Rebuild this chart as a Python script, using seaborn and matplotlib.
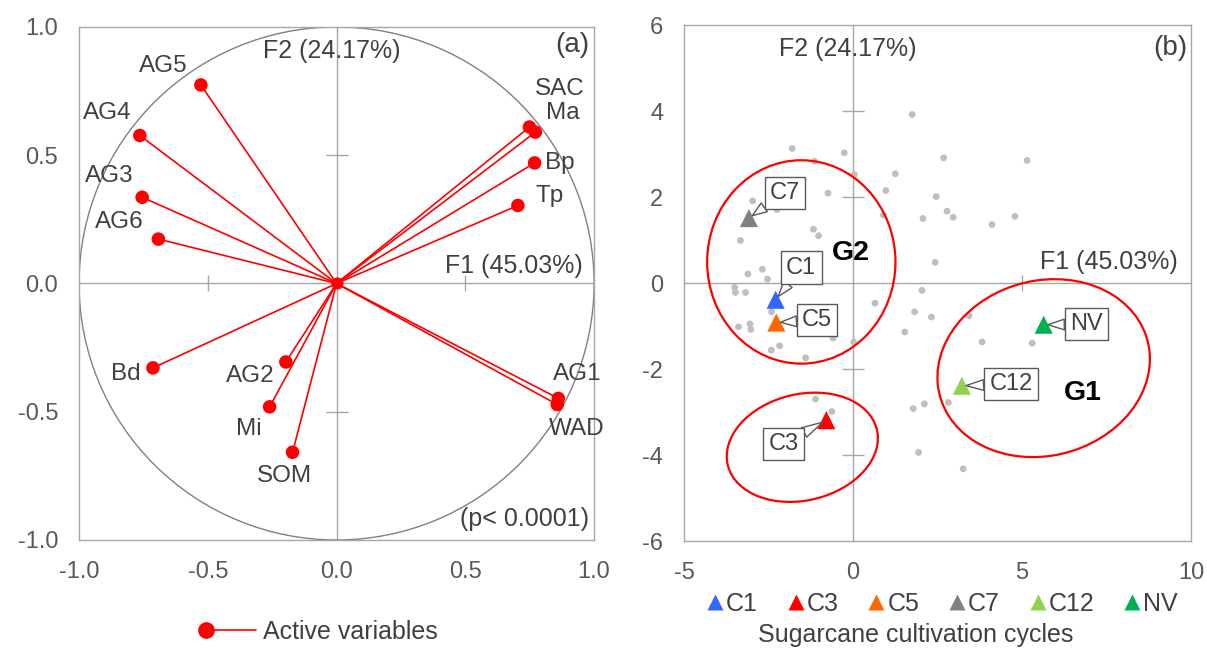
import matplotlib
matplotlib.use("Agg")
import matplotlib.pyplot as plt
from matplotlib.patches import Ellipse, Circle
from matplotlib.lines import Line2D
from matplotlib.legend_handler import HandlerLine2D
import seaborn as sns
import pandas as pd

# ----------------------------------------------
# (a) correlation circle: active variables
# ----------------------------------------------
var_names = ["AG5", "AG4", "AG3", "AG6", "SAC", "Ma", "Bp", "Tp",
             "Bd", "AG2", "Mi", "SOM", "AG1", "WAD"]
var_f1 = [-0.527, -0.764, -0.755, -0.692, 0.749, 0.772, 0.769, 0.704,
          -0.713, -0.197, -0.260, -0.171, 0.861, 0.857]
var_f2 = [0.774, 0.577, 0.336, 0.173, 0.610, 0.590, 0.470, 0.304,
          -0.329, -0.306, -0.481, -0.658, -0.448, -0.472]

# ----------------------------------------------
# (b) observations and cultivation-cycle centroids
# ----------------------------------------------
obs_f1 = [1.75, -1.80, -0.26, 2.68, 5.15, -1.14, 0.04, 1.25, -0.74, 0.97,
          2.46, -2.97, -2.25, 2.78, 2.96, 2.07, 0.90, 4.11, 4.79, -1.17,
          -1.02, -3.33, 2.43, -3.11, -2.68, -2.53, -3.50, -3.48, -3.18, 2.04,
          0.65, 1.82, 2.32, 3.43, -2.41, -3.05, -3.02, -3.39, -0.59, 0.02,
          -2.17, -2.42, -1.40, 1.53, 3.82, 5.30, -1.11, -0.63, 1.78, 2.11,
          2.82, 1.94, 3.26]
obs_f2 = [3.92, 3.13, 3.03, 2.91, 2.85, 2.83, 2.52, 2.54, 2.09, 2.15,
          2.01, 1.91, 1.71, 1.67, 1.53, 1.50, 1.58, 1.36, 1.55, 1.25,
          1.10, 0.99, 0.48, 0.21, 0.32, 0.09, -0.10, -0.22, -0.22, -0.17,
          -0.47, -0.67, -0.79, -0.76, -0.67, -0.95, -1.08, -1.02, -1.28, -1.37,
          -1.46, -1.56, -1.74, -1.14, -1.37, -1.40, -2.70, -2.99, -2.92, -2.81,
          -2.78, -3.94, -4.32]

cycles = ["C1", "C3", "C5", "C7", "C12", "NV"]
cycle_f1 = [-2.29, -0.79, -2.27, -3.08, 3.22, 5.64]
cycle_f2 = [-0.39, -3.19, -0.92, 1.51, -2.39, -0.97]
cycle_colors = ["#3366FF", "#FF0000", "#FF6600", "#808080", "#92D050", "#00B050"]

# label placement (pixels from the point) for panel (a)
label_offset = {
    "AG5": (-38, 19), "AG4": (-33, 22), "AG3": (-33, 21), "AG6": (-39, 17),
    "SAC": (30, 38), "Ma": (27, 19), "Bp": (25, 0), "Tp": (32, 9),
    "Bd": (-27, -6), "AG2": (-36, -14), "Mi": (-21, -22), "SOM": (-8, -24),
    "AG1": (19, 24), "WAD": (19, -24),
}
# callout box centres for panel (b), data units
callout_pos = {
    "C1": (-1.53, 0.36), "C3": (-2.06, -3.74), "C5": (-1.06, -0.86),
    "C7": (-2.01, 2.10), "C12": (4.67, -2.35), "NV": (6.90, -0.96),
}

sns.set_style("white")
plt.rcParams["font.family"] = ["Liberation Sans", "DejaVu Sans"]
plt.rcParams["axes.unicode_minus"] = False

TXT = "#404040"
TICK = "#595959"
FRAME = "#A6A6A6"
FS = 18


class FirstMarkerHandler(HandlerLine2D):
    """Legend entry with the marker only at the left end of the line"""
    def create_artists(self, legend, orig_handle, xdescent, ydescent,
                       width, height, fontsize, trans):
        arts = super().create_artists(legend, orig_handle, xdescent, ydescent,
                                      width, height, fontsize, trans)
        for a in arts:
            if a.get_marker() not in (None, "None", "", " "):
                a.set_markevery([0])
        return arts


fig = plt.figure(figsize=(12.07, 6.48), dpi=100)
ax_a = fig.add_axes([0.0655, 0.1667, 0.4267, 0.7917])
ax_b = fig.add_axes([0.5667, 0.1651, 0.4201, 0.7963])


def style_axes(ax):
    for sp in ax.spines.values():
        sp.set_color(FRAME)
        sp.set_linewidth(1)
    ax.tick_params(length=0, pad=15, labelsize=17, labelcolor=TICK)
    ax.axhline(0, color=FRAME, lw=1, zorder=0)
    ax.axvline(0, color=FRAME, lw=1, zorder=0)


# ---------------- panel (a) ----------------
df_var = pd.DataFrame({"name": var_names, "F1": var_f1, "F2": var_f2})
style_axes(ax_a)
ax_a.set_xlim(-1, 1)
ax_a.set_ylim(-1, 1)
ax_a.add_patch(Circle((0, 0), 1, fill=False, ec="#808080", lw=1, zorder=1))
ax_a.plot([0, 0], [0.5, -0.5], ls="none", marker="_", ms=16, mew=1, color=FRAME)
ax_a.plot([-0.5, 0.5], [0, 0], ls="none", marker="|", ms=12, mew=1, color=FRAME)
for _, r in df_var.iterrows():
    ax_a.plot([0, r.F1], [0, r.F2], color="#FF0000", lw=1.2, zorder=2)
sns.scatterplot(data=df_var, x="F1", y="F2", color="#FF0000", s=95,
                edgecolor="none", ax=ax_a, zorder=3, legend=False)
ax_a.scatter([0], [0], color="#FF0000", s=60, zorder=3)
for _, r in df_var.iterrows():
    dx, dy = label_offset[r["name"]]
    ax_a.annotate(r["name"], (r.F1, r.F2), xytext=(dx, dy),
                  textcoords="offset pixels", ha="center", va="center",
                  fontsize=FS - 0.5, color=TXT)
ax_a.text(-0.02, 0.905, "F2 (24.17%)", ha="center", va="center", fontsize=FS, color=TXT)
ax_a.text(0.69, 0.07, "F1 (45.03%)", ha="center", va="center", fontsize=FS, color=TXT)
ax_a.text(0.915, 0.93, "(a)", ha="center", va="center", fontsize=20, color=TXT)
ax_a.text(0.73, -0.92, "(p< 0.0001)", ha="center", va="center", fontsize=FS, color=TXT)
ticks_a = [-1, -0.5, 0, 0.5, 1]
ax_a.set_xticks(ticks_a)
ax_a.set_yticks(ticks_a)
ax_a.set_xticklabels([f"{v:.1f}" for v in ticks_a])
ax_a.set_yticklabels([f"{v:.1f}" for v in ticks_a])
ax_a.set_xlabel("")
ax_a.set_ylabel("")
h_var = Line2D([], [], color="#FF0000", lw=1.2, marker="o", ms=11)
ax_a.legend([h_var], ["Active variables"], loc="center", bbox_to_anchor=(0.464, -0.179),
            frameon=False, fontsize=FS, numpoints=2, handlelength=2.6,
            handletextpad=0.0, labelcolor=TXT,
            handler_map={h_var: FirstMarkerHandler(numpoints=2)})

# ---------------- panel (b) ----------------
df_obs = pd.DataFrame({"F1": obs_f1, "F2": obs_f2})
df_cyc = pd.DataFrame({"cycle": cycles, "F1": cycle_f1, "F2": cycle_f2})
style_axes(ax_b)
ax_b.set_xlim(-5, 10)
ax_b.set_ylim(-6, 6)
ax_b.plot([0, 0, 0, 0], [4, 2, -2, -4], ls="none", marker="_", ms=16, mew=1, color=FRAME)
ax_b.plot([5], [0], ls="none", marker="|", ms=12, mew=1, color=FRAME)
sns.scatterplot(data=df_obs, x="F1", y="F2", color="#BFBFBF", s=24,
                edgecolor="none", ax=ax_b, zorder=2, legend=False)

for center, w, h, ang in [((-1.53, 0.49), 5.57, 4.73, 0),
                          ((-1.50, -3.82), 4.50, 2.49, 7.8),
                          ((5.64, -1.98), 6.31, 4.10, 6.7)]:
    ax_b.add_patch(Ellipse(center, w, h, angle=ang, fill=False,
                           ec="#FF0000", lw=1.6, zorder=3))

sns.scatterplot(data=df_cyc, x="F1", y="F2", hue="cycle",
                palette=dict(zip(cycles, cycle_colors)), marker="^", s=170,
                edgecolor="none", ax=ax_b, zorder=4, legend=False)

for name, x, y in zip(cycles, cycle_f1, cycle_f2):
    ax_b.annotate(name, (x, y), xytext=callout_pos[name], textcoords="data",
                  ha="center", va="center", fontsize=17, color=TXT, zorder=5,
                  bbox=dict(boxstyle="square,pad=0.22", fc="white", ec="#595959", lw=1),
                  arrowprops=dict(arrowstyle="wedge,tail_width=0.45", fc="white",
                                  ec="#595959", lw=1, shrinkA=0, shrinkB=3))

ax_b.text(-0.05, 0.69, "G2", ha="center", va="center", fontsize=20.5,
          fontweight="bold", color="black")
ax_b.text(6.81, -2.56, "G1", ha="center", va="center", fontsize=20.5,
          fontweight="bold", color="black")
ax_b.text(-0.17, 5.44, "F2 (24.17%)", ha="center", va="center", fontsize=FS, color=TXT)
ax_b.text(7.58, 0.48, "F1 (45.03%)", ha="center", va="center", fontsize=FS, color=TXT)
ax_b.text(9.38, 5.46, "(b)", ha="center", va="center", fontsize=20, color=TXT)

ax_b.set_xticks([-5, 0, 5, 10])
ax_b.set_yticks([-6, -4, -2, 0, 2, 4, 6])
ax_b.set_ylabel("")
ax_b.set_xlabel("Sugarcane cultivation cycles", fontsize=FS, color=TXT)
ax_b.xaxis.set_label_coords(0.456, -0.159)
h_cyc = [Line2D([], [], ls="none", marker="^", ms=11, color=c, mec="none")
         for c in cycle_colors]
ax_b.legend(h_cyc, cycles, loc="center", bbox_to_anchor=(0.509, -0.122), ncol=6,
            frameon=False, fontsize=FS, handlelength=0.7, handletextpad=0.1,
            columnspacing=1.15, labelcolor=TXT)

fig.savefig("out.png", dpi=100)
